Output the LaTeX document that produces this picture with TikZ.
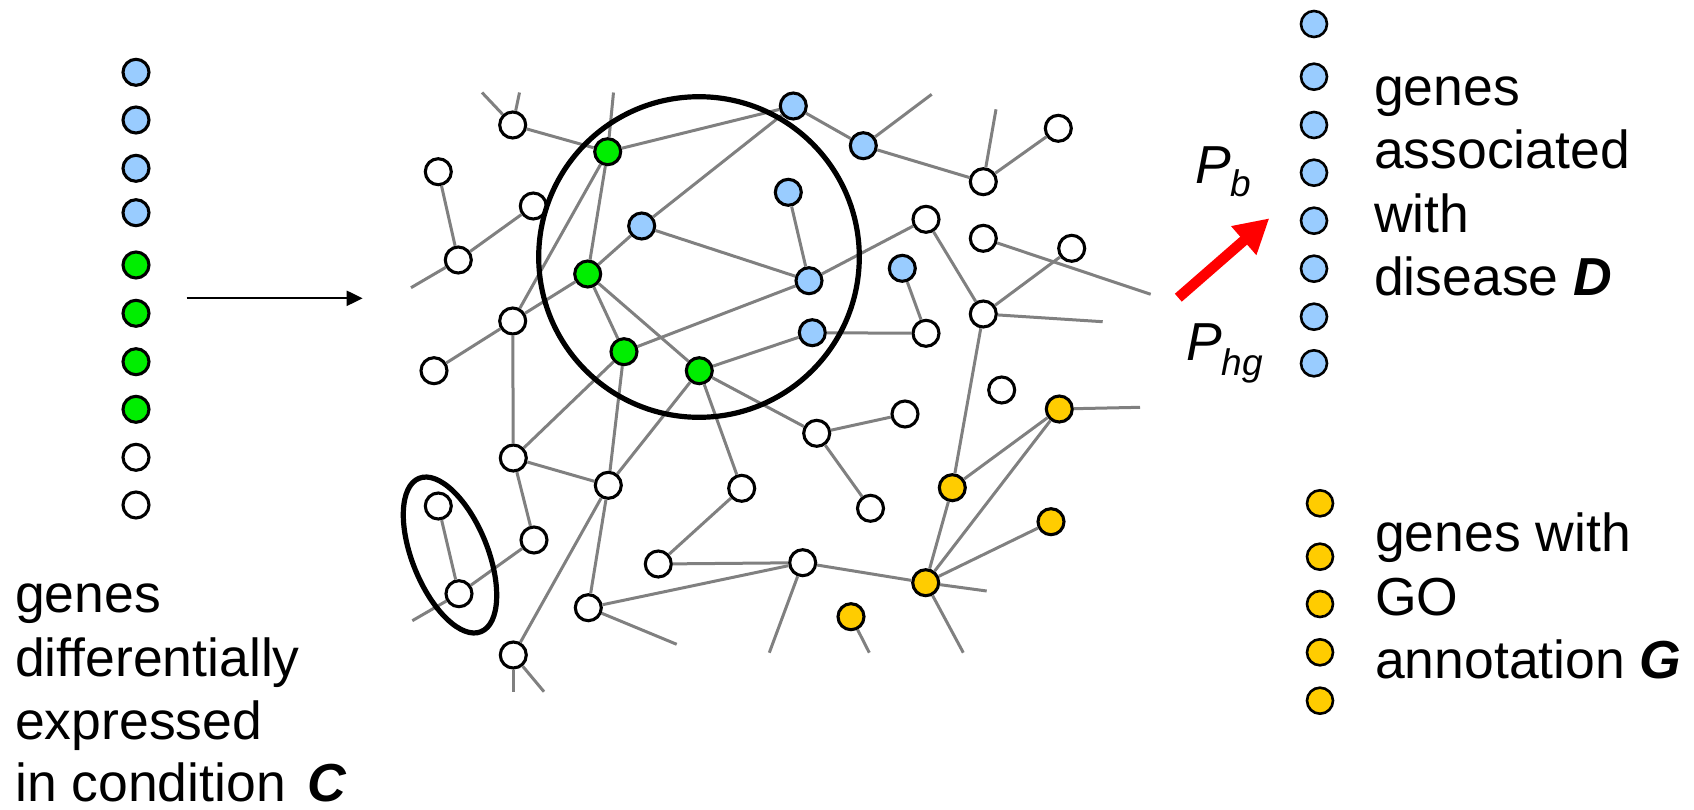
\documentclass[tikz,border=0pt]{standalone}
\usepackage{fontspec}
\setmainfont{Liberation Sans}
\usetikzlibrary{arrows.meta}
\definecolor{nblue}{RGB}{153,204,255}
\definecolor{ngreen}{RGB}{0,238,0}
\definecolor{nyellow}{RGB}{255,204,0}
\definecolor{edgegray}{RGB}{128,128,128}
\begin{document}
\begin{tikzpicture}[x=1pt,y=-1pt,
  gene/.style={circle,draw=black,line width=3.1pt,minimum size=26pt,inner sep=0pt},
  wn/.style={gene,fill=white},
  bn/.style={gene,fill=nblue},
  gn/.style={gene,fill=ngreen},
  yn/.style={gene,fill=nyellow},
  ed/.style={draw=edgegray,line width=3pt},
  lbl/.style={anchor=base west,inner sep=0pt,font=\fontsize{53.5}{62}\selectfont},
  ring/.style={draw=black,line width=5.2pt}]
\useasboundingbox (0,0) rectangle (1694,809);

% left column
\foreach \y/\s [count=\i] in {72.3/bn,120/bn,168.3/bn,212.7/bn,265/gn,313.3/gn,361.7/gn,409.3/gn,457.3/wn,505/wn}
  \node[\s] (L\i) at (136,\y) {};

\coordinate (la) at (186.7,298.3);
\coordinate (lb) at (362.7,298.3);
\draw[line width=2.2pt,-{Triangle[length=16pt,width=15pt]}] (la) -- (lb);

\node[lbl] (t1) at (15,612) {genes};
\node[lbl] (t2) at (15,676) {differentially};
\node[lbl] (t3) at (15,739) {expressed};
\node[lbl] (t4) at (15,801) {in condition\hspace{7pt} \textbf{\textit{C}}};

% network nodes
\node[wn] (w1) at (512.7,125) {};
\node[wn] (w2) at (438.3,171.7) {};
\node[wn] (w3) at (533.3,206) {};
\node[wn] (w4) at (458.3,260) {};
\node[wn] (w5) at (512.7,321) {};
\node[wn] (w6) at (434,370.7) {};
\node[wn] (w7) at (513.3,458) {};
\node[wn] (w8) at (816.7,433.3) {};
\node[wn] (w9) at (608.3,485.3) {};
\node[wn] (w10) at (741.7,488.3) {};
\node[wn] (w11) at (905,414) {};
\node[wn] (w12) at (870.5,508.3) {};
\node[wn] (w13) at (926,333.3) {};
\node[wn] (w14) at (534,540) {};
\node[wn] (w15) at (658.3,564) {};
\node[wn] (w16) at (802.7,562.7) {};
\node[wn] (w17) at (588.3,607.7) {};
\node[wn] (w18) at (513.3,655) {};
\node[wn] (e1) at (438.3,506) {};
\node[wn] (e2) at (459,593.7) {};
\node[wn] (r1) at (926,219.3) {};
\node[wn] (r2) at (983.3,181.7) {};
\node[wn] (r3) at (1058.3,128.3) {};
\node[wn] (r4) at (983.3,238.3) {};
\node[wn] (r5) at (1071.7,248.3) {};
\node[wn] (r6) at (983.3,314) {};
\node[wn] (r7) at (1001.7,390) {};

\node[gn] (g1) at (607.7,151.7) {};
\node[gn] (g2) at (587.7,274) {};
\node[gn] (g3) at (624,351.7) {};
\node[gn] (g4) at (699.3,370.7) {};

\node[bn] (b1) at (793.3,106) {};
\node[bn] (b2) at (863.3,145.7) {};
\node[bn] (b3) at (641.7,226) {};
\node[bn] (b4) at (788.3,192.3) {};
\node[bn] (b5) at (809,280.7) {};
\node[bn] (b6) at (812.3,332.7) {};
\node[bn] (b7) at (902.3,268.3) {};

\node[yn] (y1) at (851,616.7) {};
\node[yn] (y2) at (952.3,487.7) {};
\node[yn] (y3) at (1059.3,409) {};
\node[yn] (y4) at (1051,521.7) {};
\node[yn] (y5) at (925.7,582.7) {};

% free ends
\coordinate (f1) at (482,92.5);
\coordinate (f2) at (519.5,92.5);
\coordinate (f3) at (613.5,92.5);
\coordinate (f4) at (411,287.7);
\coordinate (f5) at (931.7,94.3);
\coordinate (f6) at (996,109.3);
\coordinate (f7) at (1150.7,294.3);
\coordinate (f8) at (1102.7,321.7);
\coordinate (f9) at (1140,407.3);
\coordinate (f10) at (412.3,620.7);
\coordinate (f11) at (676.7,644.3);
\coordinate (f12) at (769.3,652.7);
\coordinate (f13) at (513.3,691.7);
\coordinate (f14) at (544,691.7);
\coordinate (f15) at (869.3,652.7);
\coordinate (f16) at (986.7,591);
\coordinate (f17) at (963.3,652.7);

% edges
\foreach \a/\b in {w1/f1,w1/f2,w1/g1,g1/f3,g1/b1,g1/g2,g1/w5,w2/w4,w4/w3,w4/f4,
  g2/b3,b3/b1,b3/b5,b4/b5,b5/r1,g2/w5,g2/g3,g2/g4,g3/b5,w5/w6,w5/w7,g3/w7,g3/w9,
  g4/b6,g4/w9,g4/w10,g4/w8,w8/w11,w8/w12,b6/w13,b1/b2,b2/f5,b2/r2,r2/f6,r2/r3,
  b7/w13,r4/f7,r1/r6,r6/r5,r6/f8,r6/y2,y3/f9,w7/w9,w7/w14,e1/e2,e2/w14,e2/f10,
  w9/w17,w9/w18,w10/w15,w15/w16,w17/w16,w17/f11,w16/f12,w16/y5,w18/f13,w18/f14,
  y1/f15,y2/y3,y2/y5,y3/y5,y4/y5,y5/f16,y5/f17}
  \draw[ed] (\a) -- (\b);

% groupings
\draw[ring] (699,257) circle [radius=160.3];
\draw[ring,rotate around={22:(450,555)}] (450,555) ellipse [x radius=37.7, y radius=82.7];

% red arrow and probabilities
\coordinate (ra) at (1178.3,297.7);
\coordinate (rb) at (1269.3,218.3);
\draw[red,line width=10.5pt,-{Triangle[length=34pt,width=36pt]}] (ra) -- (rb);
\node[lbl] (pb) at (1195,183.3) {\textit{P}\raisebox{-13pt}{\fontsize{37}{40}\selectfont\textit{b}}};
\node[lbl] (phg) at (1186,360) {\textit{P}\raisebox{-15pt}{\fontsize{37}{40}\selectfont\textit{hg}}};

% right blue column
\foreach \y [count=\i] in {24,76.7,125,172.7,220.7,268.7,316.7,363.3}
  \node[bn,line width=2.6pt] (D\i) at (1314,\y) {};
\node[lbl] (d1) at (1374,105.5) {genes};
\node[lbl] (d2) at (1374,168.5) {associated};
\node[lbl] (d3) at (1374,232) {with};
\node[lbl] (d4) at (1374,295) {disease \textbf{\textit{D}}};

% right yellow column
\foreach \y [count=\i] in {503.3,556.7,604,652.3,700.7}
  \node[yn,line width=2.6pt] (G\i) at (1320,\y) {};
\node[lbl] (a1) at (1375,551.7) {genes with};
\node[lbl] (a2) at (1375,615) {GO};
\node[lbl] (a3) at (1375,678.3) {annotation \textbf{\textit{G}}};
\end{tikzpicture}
\end{document}
